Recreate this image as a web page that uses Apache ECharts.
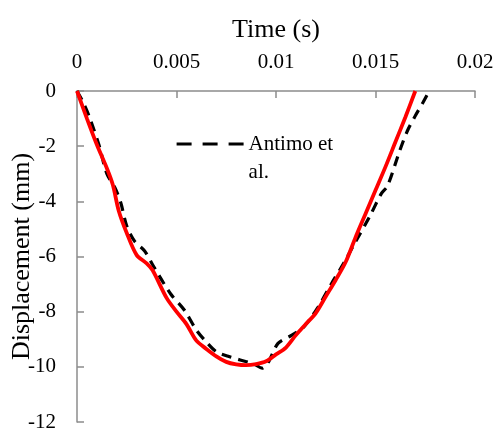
<!DOCTYPE html>
<html>
<head>
<meta charset="utf-8">
<script src="https://cdn.jsdelivr.net/npm/echarts@6/dist/echarts.min.js"></script>
<style>
  html, body { margin: 0; padding: 0; background: #fff; }
  #chart { width: 498px; height: 432px; }
</style>
</head>
<body>
<div id="chart"></div>
<script>
// time (s) / displacement (mm)
const antimoTime = [0, 0.0003, 0.0006, 0.0011, 0.0015, 0.0019, 0.0022, 0.0025, 0.0029, 0.0034, 0.0038,
  0.0047, 0.0054, 0.006, 0.0065, 0.007, 0.0076, 0.0082, 0.0089, 0.0093, 0.0096, 0.0101, 0.0108, 0.0114,
  0.0121, 0.0128, 0.0134, 0.014, 0.0147, 0.0153, 0.0156, 0.0162, 0.0166, 0.017, 0.0174, 0.0177];
const antimoDisp = [0, -0.4, -0.9, -1.95, -3.0, -3.5, -4.05, -4.9, -5.45, -5.8, -6.3,
  -7.35, -7.95, -8.67, -9.1, -9.45, -9.62, -9.75, -9.9, -10.05, -9.85, -9.15, -8.85, -8.55,
  -7.85, -6.97, -6.25, -5.46, -4.56, -3.71, -3.45, -2.2, -1.45, -0.9, -0.4, 0];

const modelTime = [0, 0.0005, 0.001, 0.0015, 0.0018, 0.0021, 0.0025, 0.003, 0.0035, 0.0038, 0.0045,
  0.005, 0.0055, 0.006, 0.0065, 0.007, 0.0075, 0.008, 0.0085, 0.009, 0.0095, 0.01, 0.0105, 0.011,
  0.0115, 0.012, 0.0125, 0.013, 0.0135, 0.014, 0.0145, 0.015, 0.0155, 0.016, 0.0165, 0.017];
const modelDisp = [0, -1.0, -1.95, -2.8, -3.4, -4.35, -5.15, -5.95, -6.25, -6.5, -7.5,
  -8.0, -8.45, -9.05, -9.35, -9.62, -9.82, -9.91, -9.94, -9.9, -9.8, -9.55, -9.3, -8.85,
  -8.45, -8.05, -7.45, -6.85, -6.2, -5.3, -4.45, -3.6, -2.75, -1.85, -0.95, 0];

const timeTicks = [0, 0.005, 0.01, 0.015, 0.02];

const serif = '"Liberation Serif", "Times New Roman", serif';

let chart = echarts.init(document.getElementById('chart'));

function pairs(xs, ys) {
  return xs.map(function (x, i) { return [x, ys[i]]; });
}

chart.setOption({
  animation: false,
  grid: { left: 77, right: 23, top: 91, bottom: 10, outerBoundsMode: 'none' },
  legend: {
    data: ['Antimo et al.'],
    left: 175,
    top: 102,
    padding: 0,
    itemWidth: 67,
    itemHeight: 14,
    itemGap: 2,
    // blank first line keeps "Antimo et" level with the dash sample
    formatter: function () { return ' \nAntimo et\nal.'; },
    itemStyle: { color: 'rgba(0,0,0,0)', borderWidth: 0, opacity: 0 },
    lineStyle: { type: [15, 11], width: 3.2, color: '#000' },
    textStyle: {
      fontFamily: serif,
      fontSize: 21,
      color: '#000',
      lineHeight: 28
    }
  },
  xAxis: {
    type: 'value',
    position: 'top',
    min: 0,
    max: 0.02,
    interval: 0.005,
    name: 'Time (s)',
    nameLocation: 'middle',
    nameGap: 48,
    nameTextStyle: { fontFamily: serif, fontSize: 26, color: '#000' },
    axisLine: { lineStyle: { color: '#8c8c8c', width: 1.5 } },
    axisTick: { inside: true, length: 7, lineStyle: { color: '#8c8c8c', width: 1.5 } },
    splitLine: { show: false },
    axisLabel: {
      margin: 18,
      fontFamily: serif,
      fontSize: 21,
      color: '#000',
      formatter: function (v) {
        let hit = timeTicks.find(function (t) { return Math.abs(t - v) < 1e-9; });
        return hit === undefined ? '' : String(hit);
      }
    }
  },
  yAxis: {
    type: 'value',
    min: -12,
    max: 0,
    interval: 2,
    name: 'Displacement (mm)',
    nameLocation: 'middle',
    nameGap: 42,
    nameMoveOverlap: false,
    nameTextStyle: { fontFamily: serif, fontSize: 26, color: '#000' },
    axisLine: { show: true, lineStyle: { color: '#8c8c8c', width: 1.5 } },
    axisTick: { show: true, inside: true, length: 7, lineStyle: { color: '#8c8c8c', width: 1.5 } },
    splitLine: { show: false },
    axisLabel: { margin: 21, fontFamily: serif, fontSize: 21, color: '#000' }
  },
  series: [
    {
      name: 'Antimo et al.',
      type: 'line',
      data: pairs(antimoTime, antimoDisp),
      smooth: 0.3,
      symbol: 'none',
      lineStyle: { color: '#000', width: 3.2, type: [10, 7] },
      itemStyle: { color: '#000' },
      z: 2
    },
    {
      name: 'Model',
      type: 'line',
      data: pairs(modelTime, modelDisp),
      smooth: 0.3,
      symbol: 'none',
      lineStyle: { color: '#ff0000', width: 3.8 },
      itemStyle: { color: '#ff0000' },
      z: 3
    }
  ]
});
</script>
</body>
</html>
